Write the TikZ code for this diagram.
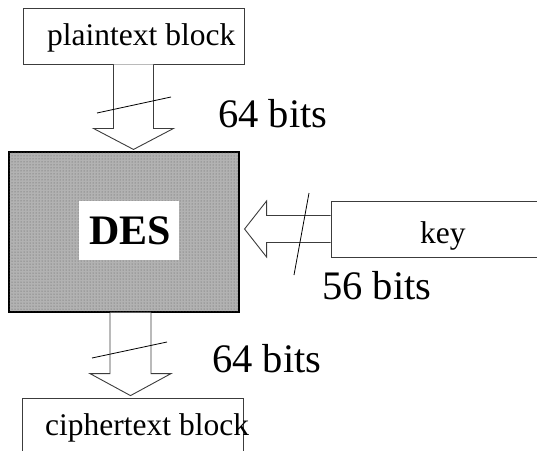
\documentclass[tikz,border=0pt]{standalone}
\usepackage{fontspec}
\setmainfont{Liberation Serif}
\usetikzlibrary{calc,patterns}
\definecolor{desbg}{RGB}{178,178,178}
\definecolor{desdot}{RGB}{90,90,90}
\definecolor{edge}{RGB}{60,60,60}
\begin{document}
\begin{tikzpicture}[x=1pt,y=-1pt,
  box/.style={draw=edge,line width=0.9pt,inner sep=0pt,fill=white},
  blockarrow/.style={draw=edge,line width=0.9pt,fill=white,line join=miter},
  slash/.style={draw=black,line width=0.8pt},
  big/.style={font=\fontsize{40.5}{40.5}\selectfont,inner sep=0pt,anchor=base west},
  lbl/.style={font=\fontsize{31.5}{31.5}\selectfont,inner sep=0pt,anchor=base west}]
\useasboundingbox (0,0) rectangle (537,450);
\clip (0,0) rectangle (537,450);
% boxes
\node[box,minimum width=221pt,minimum height=56pt] (plain) at (133.5,36) {};
\node[lbl] (plaintxt) at (47,45) {plaintext block};
\node[draw=black,line width=1.2pt,fill=desbg,minimum width=230pt,minimum height=160pt,inner sep=0pt] (des) at (124,232) {};
\fill[pattern=dots,pattern color=desdot] (des.north west) rectangle (des.south east);
\draw[black,line width=1.2pt] (des.north west) rectangle (des.south east);
\node[fill=white,minimum width=100pt,minimum height=59pt,inner sep=0pt,
  font=\fontsize{42}{42}\selectfont\bfseries] (deslbl) at (129,230.5) {\hspace*{3pt}DES};
\node[box,minimum width=240pt,minimum height=56pt] (key) at (451,229) {};
\node[lbl] (keytxt) at (420,243) {key};
\node[box,minimum width=221pt,minimum height=60pt] (cipher) at (132.5,428) {};
\node[lbl] (ciphertxt) at (45,435) {ciphertext block};
% block arrows
\draw[blockarrow] ($(plain.south)+(-20,0)$) -- ++(0,64) -- ++(-20,0) -- ++(40,21)
  -- ++(40,-21) -- ++(-20,0) -- ++(0,-64);
\draw[blockarrow] ($(des.south)+(-14,0)$) -- ++(0,61) -- ++(-20,0) -- ++(40.5,22)
  -- ++(40.5,-22) -- ++(-20,0) -- ++(0,-61);
\draw[blockarrow] ($(key.west)+(0,-13.5)$) -- ++(-64,0) -- ++(0,-14.5) -- ++(-22,28)
  -- ++(22,28) -- ++(0,-14.5) -- ++(64,0);
% slashes
\draw[slash] (97,113) -- (171,97);
\draw[slash] (309,193) -- (294,275);
\draw[slash] (92,358) -- (167,342);
% labels
\node[big] (w1) at (218,127) {64 bits};
\node[big] (w2) at (322,299) {56 bits};
\node[big] (w3) at (212,372) {64 bits};
\end{tikzpicture}
\end{document}
